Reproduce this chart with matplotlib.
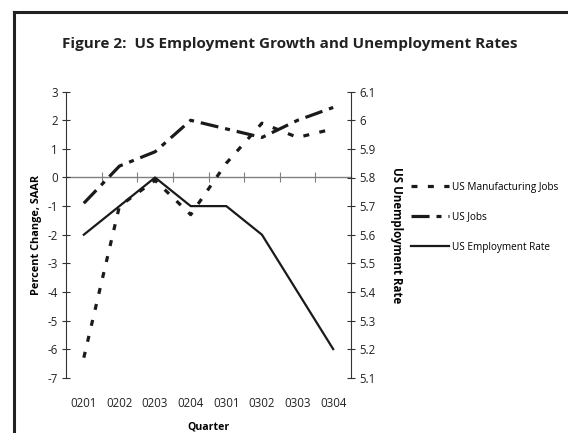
import matplotlib
matplotlib.use("Agg")
import matplotlib.pyplot as plt
from matplotlib.lines import Line2D

plt.rcParams['font.family'] = ['Open Sans', 'DejaVu Sans']
plt.rcParams['lines.scale_dashes'] = False
plt.rcParams['axes.unicode_minus'] = False

quarters = ["0201", "0202", "0203", "0204", "0301", "0302", "0303", "0304"]
manufacturing_jobs = [-6.3, -1.0, -0.1, -1.3, 0.5, 1.9, 1.4, 1.7]
us_jobs = [-0.9, 0.4, 0.9, 2.0, 1.7, 1.4, 2.0, 2.45]
unemployment_rate = [5.6, 5.7, 5.8, 5.7, 5.7, 5.6, 5.4, 5.2]

left_ticks = list(range(-7, 4))
right_ticks = [5.1, 5.2, 5.3, 5.4, 5.5, 5.6, 5.7, 5.8, 5.9, 6.0, 6.1]
right_tick_labels = ["5.1", "5.2", "5.3", "5.4", "5.5", "5.6", "5.7", "5.8", "5.9", "6", "6.1"]

W, H = 568, 433
fig = plt.figure(figsize=(W / 100, H / 100), dpi=100)
ax = fig.add_axes([66 / W, (H - 377.7) / H, 285 / W, 286 / H])
ax2 = ax.twinx()

x = list(range(len(quarters)))
c = '#1a1a1a'
l1, = ax.plot(x, manufacturing_jobs, color=c, lw=2.3, dashes=(4.3, 7.5),
              dash_capstyle='butt', label='US Manufacturing Jobs', zorder=3)
l2, = ax.plot(x, us_jobs, color=c, lw=2.3, dashes=(13, 5, 3.6, 5),
              dash_capstyle='butt', label='US Jobs', zorder=3)
l3, = ax2.plot(x, unemployment_rate, color=c, lw=1.6, label='US Employment Rate', zorder=3)

ax.set_xlim(-0.5, len(quarters) - 0.5)
ax.set_ylim(-7, 3)
ax2.set_ylim(5.1, 6.1)
ax.set_yticks(left_ticks)
ax2.set_yticks(right_ticks)
ax2.set_yticklabels(right_tick_labels)

for s in ['top', 'bottom']:
    ax.spines[s].set_visible(False)
    ax2.spines[s].set_visible(False)
ax2.spines['left'].set_visible(False)
ax.spines['right'].set_visible(False)
ax.spines['left'].set_color('#333333')
ax.spines['left'].set_linewidth(0.8)
ax2.spines['right'].set_color('#333333')
ax2.spines['right'].set_linewidth(0.8)

ax.tick_params(axis='y', direction='inout', length=5.5, width=0.8, color='#333333',
               labelsize=8.3, pad=3, labelcolor='#222222')
ax2.tick_params(axis='y', direction='inout', length=5.5, width=0.8, color='#333333',
                labelsize=8.3, pad=3, labelcolor='#222222')

ax.set_xticks(x)
ax.set_xticklabels(quarters)
ax.tick_params(axis='x', length=0, pad=14, labelsize=8.3, labelcolor='#222222')

sec = ax.secondary_xaxis(0, transform=ax.transData)
sec.set_xticks([i + 0.5 for i in range(len(quarters) - 1)])
sec.set_xticklabels([])
sec.tick_params(axis='x', direction='inout', length=7, width=0.8, color='#808080')
sec.spines['bottom'].set_color('#808080')
sec.spines['bottom'].set_linewidth(1.0)

ax.set_xlabel('Quarter', fontweight='bold', fontsize=7.6, labelpad=8)
ax.set_ylabel('Percent Change, SAAR', fontweight='bold', fontsize=7.8, labelpad=4)
ax2.set_ylabel('US Unemployment Rate', fontweight='bold', fontsize=8.3, rotation=-90, labelpad=20)

fig.text(290 / W, 1 - 44 / H, 'Figure 2:  US Employment Growth and Unemployment Rates',
         ha='center', va='center', fontsize=11, fontweight='bold', color='#222222')

fig.legend(handles=[l1, l2, l3], loc='center left', bbox_to_anchor=(411 / W, 1 - 217 / H),
           frameon=False, fontsize=7.2, handlelength=3.8, handletextpad=0.25,
           labelspacing=1.9, borderaxespad=0, borderpad=0)

fig.add_artist(Line2D([14 / W, 1], [1 - 12 / H, 1 - 12 / H], transform=fig.transFigure,
                      color='#222222', lw=2.2))
fig.add_artist(Line2D([14 / W, 14 / W], [0, 1 - 12 / H], transform=fig.transFigure,
                      color='#222222', lw=2.2))

fig.savefig('out.png', dpi=100)
